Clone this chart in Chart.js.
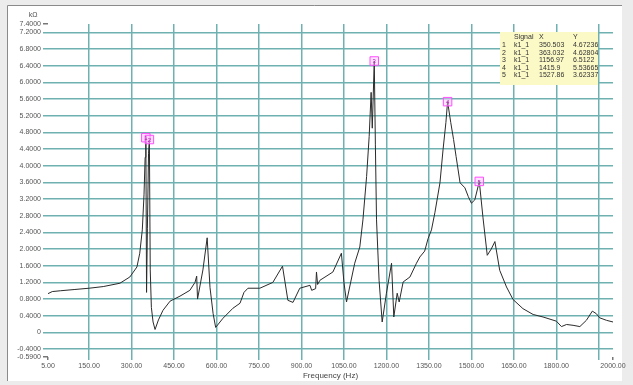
<!DOCTYPE html>
<html>
<head>
<meta charset="utf-8">
<script src="https://cdn.jsdelivr.net/npm/chart.js@4.4.1/dist/chart.umd.min.js"></script>
<style>
  html, body { margin: 0; padding: 0; background: #ececec; }
  #wrap { position: absolute; left: 0; top: 0; width: 633px; height: 385px; }
</style>
</head>
<body>
<div id="wrap"><canvas id="freqChart" width="633" height="385"></canvas></div>
<script>
// 주파수 응답 데이터 (Hz, kΩ)
const freqs = [5, 20, 50, 100, 150, 200, 259, 294, 319, 329, 338, 344, 348, 350.5, 353, 356, 360, 363, 366, 370,
	376, 383, 395, 411, 436, 471, 506, 524, 530, 533, 552, 567, 577, 588, 597, 623, 658, 683, 697, 711,
	753, 799, 833, 852, 870, 894, 930, 936, 950, 953, 957, 965, 1011, 1041, 1050, 1059, 1088, 1106, 1117, 1130,
	1139, 1146, 1150, 1157, 1161, 1165, 1174, 1185, 1200, 1218, 1226, 1238, 1245, 1259, 1283, 1306, 1318, 1335, 1347, 1359,
	1371, 1389, 1400, 1410, 1415.9, 1427, 1437, 1446, 1460, 1477, 1489, 1500, 1512, 1527.9, 1541, 1556, 1570, 1583, 1600, 1624,
	1647, 1682, 1718, 1753, 1800, 1818, 1836, 1859, 1883, 1906, 1927, 1941, 1953, 1977, 2000];
const values = [0.93, 0.98, 1.0, 1.03, 1.06, 1.1, 1.18, 1.33, 1.57, 1.9, 2.46, 3.3, 4.2, 4.67, 0.96, 2.5, 4.3, 4.63, 1.5, 0.6,
	0.25, 0.07, 0.3, 0.53, 0.75, 0.87, 1.01, 1.2, 1.35, 0.8, 1.5, 2.27, 1.08, 0.45, 0.12, 0.34, 0.58, 0.7, 0.96, 1.06,
	1.06, 1.2, 1.59, 0.77, 0.72, 1.06, 1.13, 1.01, 1.05, 1.45, 1.15, 1.25, 1.45, 1.9, 1.2, 0.73, 1.66, 2.05, 2.7, 3.74,
	4.7, 5.76, 4.9, 6.51, 4.5, 2.7, 1.25, 0.25, 0.94, 1.66, 0.37, 0.94, 0.73, 1.21, 1.33, 1.66, 1.81, 1.95, 2.25, 2.46,
	2.87, 3.59, 4.39, 5.04, 5.54, 5.04, 4.63, 4.22, 3.59, 3.47, 3.26, 3.1, 3.18, 3.62, 2.75, 1.85, 2.0, 2.18, 1.49, 1.09,
	0.79, 0.57, 0.43, 0.37, 0.27, 0.14, 0.19, 0.17, 0.14, 0.29, 0.51, 0.45, 0.35, 0.29, 0.25];

// 마커 (피크) 정보
const markerSignal = ['k1_1', 'k1_1', 'k1_1', 'k1_1', 'k1_1'];
const markerX = [350.503, 363.032, 1156.97, 1415.9, 1527.86];
const markerY = [4.67236, 4.62804, 6.5122, 5.53665, 3.62337];

// 축 눈금
const xTicks = [5, 150, 300, 450, 600, 750, 900, 1050, 1200, 1350, 1500, 1650, 1800, 1950, 2000];
const yTicks = [-0.59, -0.4, 0, 0.4, 0.8, 1.2, 1.6, 2.0, 2.4, 2.8, 3.2, 3.6, 4.0, 4.4, 4.8, 5.2, 5.6, 6.0, 6.4, 6.8, 7.2, 7.4];

const GRID = '#6fb1b1';
const TXT = '#555555';
const FONT = "'Liberation Sans', Arial, sans-serif";

// 배경 패널
const panelPlugin = {
	id: 'panel',
	beforeDraw(chart) {
		const ctx = chart.ctx;
		ctx.save();
		ctx.fillStyle = '#ececec';
		ctx.fillRect(0, 0, chart.width, chart.height);
		ctx.fillStyle = '#ffffff';
		ctx.fillRect(7, 5, 615, 376);
		ctx.strokeStyle = '#8a8a8a';
		ctx.lineWidth = 1;
		ctx.beginPath();
		ctx.moveTo(7.5, 381);
		ctx.lineTo(7.5, 5.5);
		ctx.lineTo(622, 5.5);
		ctx.stroke();
		// 단위
		ctx.fillStyle = TXT;
		ctx.font = '7px ' + FONT;
		ctx.textAlign = 'center';
		ctx.textBaseline = 'middle';
		ctx.fillText('kΩ', 33, 15);
		ctx.restore();
	}
};

// 마커 번호 + 표
const tablePlugin = {
	id: 'markerTable',
	afterDraw(chart) {
		const ctx = chart.ctx;
		const xs = chart.scales.x, ys = chart.scales.y;
		ctx.save();
		ctx.font = '6px ' + FONT;
		ctx.textAlign = 'center';
		ctx.textBaseline = 'middle';
		ctx.fillStyle = '#b020b0';
		for (let i = 0; i < markerX.length; i++) {
			ctx.fillText(String(i + 1), xs.getPixelForValue(markerX[i]), ys.getPixelForValue(markerY[i]) + 0.5);
		}

		// 표
		const left = 500, top = 32, w = 98, h = 53;
		ctx.fillStyle = '#fbf9c6';
		ctx.fillRect(left, top, w, h);
		ctx.beginPath();
		ctx.rect(left, top, w, h);
		ctx.clip();
		ctx.fillStyle = '#333333';
		ctx.font = '7px ' + FONT;
		ctx.textAlign = 'left';
		ctx.textBaseline = 'middle';
		ctx.fillText('Signal', 514, 37);
		ctx.fillText('X', 539, 37);
		ctx.fillText('Y', 573, 37);
		for (let i = 0; i < markerX.length; i++) {
			const y = 45 + i * 7.6;
			ctx.fillText(String(i + 1), 502, y);
			ctx.fillText(markerSignal[i], 514, y);
			ctx.fillText(String(markerX[i]), 539, y);
			ctx.fillText(String(markerY[i]), 573, y);
		}
		ctx.restore();
	}
};

const lineData = freqs.map((f, i) => ({ x: f, y: values[i] }));
const markerData = markerX.map((f, i) => ({ x: f, y: markerY[i] }));

const freqChart = new Chart(document.getElementById('freqChart'), {
	type: 'line',
	data: {
		datasets: [{
			label: 'markers',
			data: markerData,
			showLine: false,
			pointStyle: 'rect',
			pointRadius: 6,
			pointBorderWidth: 1,
			pointBorderColor: '#ff4dff',
			pointBackgroundColor: 'rgba(255, 190, 255, 0.45)'
		}, {
			label: 'k1_1',
			data: lineData,
			borderColor: '#2b2b2b',
			borderWidth: 1,
			pointRadius: 0,
			tension: 0,
			fill: false
		}]
	},
	options: {
		responsive: false,
		animation: false,
		events: [],
		layout: { padding: { top: 24, right: 20, bottom: 0, left: 0 } },
		plugins: {
			legend: { display: false },
			tooltip: { enabled: false }
		},
		scales: {
			x: {
				type: 'linear',
				min: 5,
				max: 2000,
				afterBuildTicks: (scale) => { scale.ticks = xTicks.map(v => ({ value: v })); },
				afterFit: (scale) => { scale.height = 28; },
				border: { display: false },
				grid: {
					color: (c) => (c.tick && (c.tick.value === 5 || c.tick.value === 2000)) ? 'rgba(0,0,0,0)' : GRID,
					tickColor: (c) => (c.tick && (c.tick.value === 5 || c.tick.value === 2000)) ? '#777' : GRID,
					lineWidth: 1.5,
					tickLength: 3
				},
				ticks: {
					autoSkip: false,
					maxRotation: 0,
					padding: 2,
					color: TXT,
					font: { family: FONT, size: 7 },
					callback: (v) => v === 1950 ? '' : v.toFixed(2)
				},
				title: {
					display: true,
					text: 'Frequency (Hz)',
					color: '#444',
					font: { family: FONT, size: 8 },
					padding: { top: 0, bottom: 4 }
				}
			},
			y: {
				type: 'linear',
				min: -0.59,
				max: 7.4,
				afterBuildTicks: (scale) => { scale.ticks = yTicks.map(v => ({ value: v })); },
				afterFit: (scale) => { scale.width = 48; },
				border: { display: false },
				grid: {
					color: (c) => (c.tick && (c.tick.value === -0.59 || c.tick.value === 7.4)) ? 'rgba(0,0,0,0)' : GRID,
					tickColor: (c) => (c.tick && (c.tick.value === -0.59 || c.tick.value === 7.4)) ? '#777' : GRID,
					lineWidth: 1.5,
					tickLength: 5
				},
				ticks: {
					autoSkip: false,
					padding: 2,
					color: TXT,
					font: { family: FONT, size: 7 },
					callback: (v) => v === 0 ? '0' : v.toFixed(4)
				}
			}
		}
	},
	plugins: [panelPlugin, tablePlugin]
});
</script>
</body>
</html>
